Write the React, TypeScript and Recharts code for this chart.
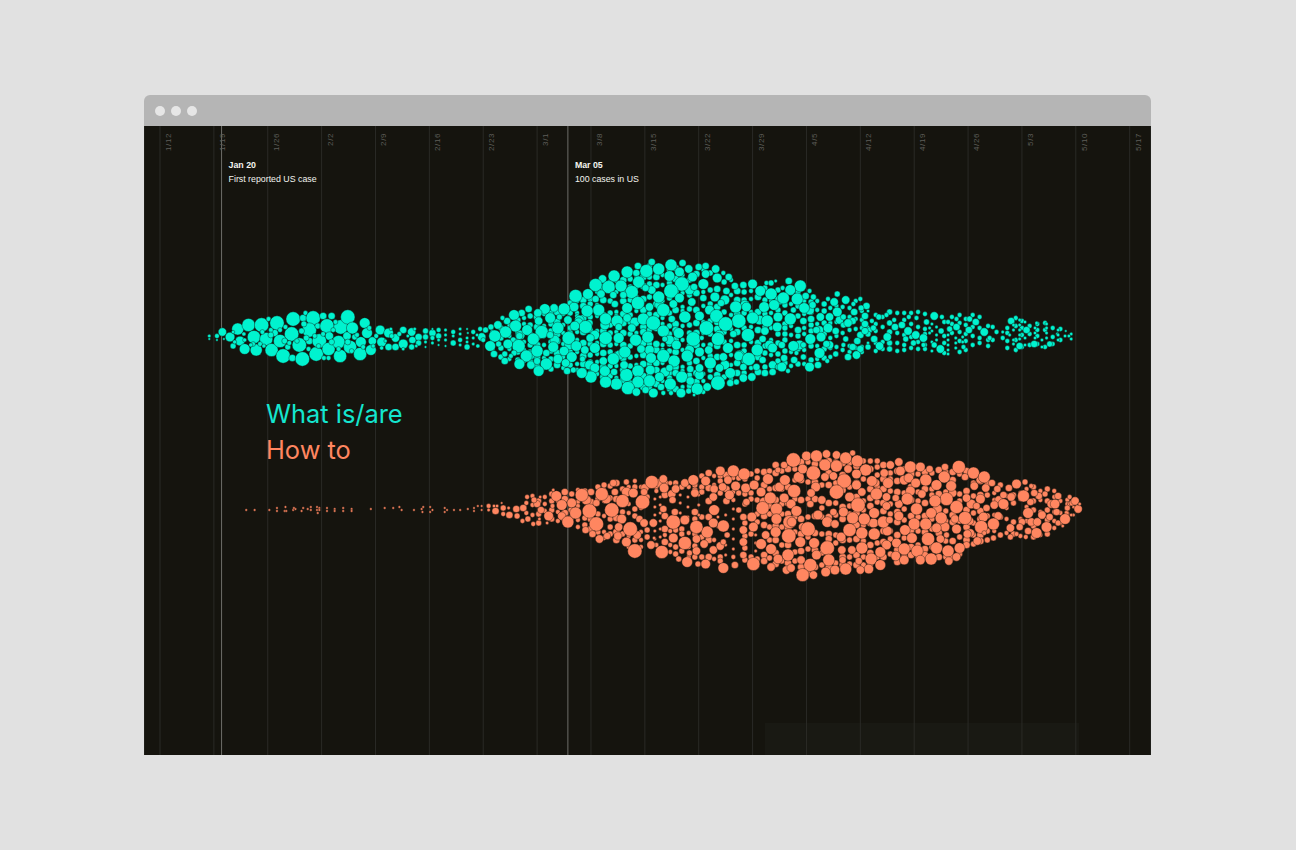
import React from "react";
import {
  ScatterChart,
  Scatter,
  XAxis,
  YAxis,
  ZAxis,
  CartesianGrid,
  ReferenceLine,
} from "recharts";

// weekly ticks, in days after Jan 12
const weekDays = [0, 7, 14, 21, 28, 35, 42, 49, 56, 63, 70, 77, 84, 91, 98, 105, 112, 119, 126];
const weekLabels = ["1/12", "1/19", "1/26", "2/2", "2/9", "2/16", "2/23", "3/1", "3/8", "3/15", "3/22", "3/29", "4/5", "4/12", "4/19", "4/26", "5/3", "5/10", "5/17"];

// each point: [day, offset from the swarm's middle, search volume]
const whatIsEarly = [
  [6.4,-1,2],[6.4,2,1],[7.4,-1,4],[7.4,3,1],[8.1,-5,12],[8.3,2,1],[9.1,0,16],[9.5,9,6],[10.1,-8,25],[10.4,4,16],[11,12,20],[11.5,-12,30],[12.2,0,30],[12.5,13,25],[13.2,-12,36],[13.8,2,30],[14.1,-18,4],[14.5,13,30],[15.2,-14,36],[14.9,-4,9],[15.6,4,30],[16,19,36],[17.3,-18,36],[17.1,-3,36],[16.6,10,6],[17.2,21,9],[18.1,8,36],[18.5,22,36],[18.6,-19,9],[18.9,-24,4],[19.9,-19,36],[19.4,-7,36],[19.4,4,9],[20.3,17,36],[20.7,4,36],[20.5,-11,6],[21.2,-21,9],[21.7,-11,36],[22,-1,12],[21.9,12,30],[21.3,21,4],[21.9,21,4],[22.3,-21,9],[23.2,5,30],[23.5,-10,36],[23.4,19,30],[24.4,-20,36],[24.3,-1,12],[25,-9,25],[24.7,10,30],[25.3,0,6],[26,17,30],[26.1,5,20],[26.6,-14,20],[26.9,-4,20],[27.4,13,20],[27.6,4,12],
  [10.9,-3,3],[11,3,3],[9.7,5,3],[9.5,-5,2],[12.1,7,4],[11.8,8,3],[13,7,4],[13.3,-5,4],[13.5,9,3],[14.4,-7,4],[14.4,-2,6],[15.6,-7,4],[16.3,-10,4],[16.2,4,6],[16.8,6,4],[17.8,4,4],[18.4,-6,6],[18.7,-13,6],[19,1,6],[19.3,12,4],[20.1,-1,4],[20.6,9,4],[21.2,-3,4],[22.3,5,6],[22.5,-7,4],[22.8,-15,4],[23.2,12,4],[24.4,5,6],[24.9,14,4],[25.6,-2,4],[26.4,10,4],[27.2,-9,4],[27.7,9,3],[28.1,-1,4],
];
const whatIsLull = [
  [28.6,-7,16],[28.8,5,16],[29.7,-4,16],[29.7,10,9],[30.6,1,12],[30.6,10,9],[31.6,-7,9],[31.6,7,16],[32.7,-5,12],[32.8,3,9],[32.7,10,6],[33.6,0,9],[33.6,6,6],[34.5,-6,6],[34.5,0,6],[35.4,-4,9],[35.4,1,4],[36.2,-7,4],[36.2,-1,6],[37.1,-7,2],[37.1,-2,2],[38.1,-5,4],[38.1,6,6],[39,-3,2],[39,3,4],[39.9,10,6],[40.7,-5,4],[41.8,0,12],
  [28.8,11,3],[29.3,4,2],[30,-8,2],[30.1,-1,4],[31.1,-3,4],[31.6,12,2],[32.2,-1,2],[33.1,-8,2],[33.3,9,2],[34.5,5,2],[34.5,10,1],[35.4,6,2],[35.4,-8,1],[36.2,3,2],[36.2,8,1],[37.1,3,2],[37.1,9,1],[38.1,-1,2],[39,-8,2],[39,8,2],[40,-4,1],[39.9,-8,1],[39.9,1,2],[39.9,5,2],[40.7,1,2],[40.7,7,2],[41.2,-2,2],[41.3,9,3],
];
const whatIsPeak = [
  [63.9,-75,9],[62.1,-71,9],[60.7,-65,25],[63.2,-66,30],[64.8,-68,25],[66.4,-72,25],[67.9,-74,9],[68.7,-68,12],[70,-70,9],[70.9,-71,9],[72.2,-68,12],[59,-61,25],[57.5,-58,12],[56.6,-52,30],[58.3,-50,30],[59.9,-51,25],[61.9,-64,9],[62.2,-55,25],[66.2,-61,20],[67.5,-65,16],[69.2,-60,16],[70.9,-63,12],[72.4,-59,16],[73.2,-64,4],[73.9,-60,9],[67.8,-53,36],[66.4,-46,36],[64.8,-40,25],[63.9,-47,12],[61.3,-45,30],[63.1,-49,9],[57.3,-43,12],[55.6,-43,20],[54,-41,30],[58.9,-42,9],[60.2,-42,9],[62.1,-34,30],[63.6,-30,12],[65.4,-27,30],[67.5,-39,16],[69.1,-35,12],[70.6,-53,20],[69.4,-50,9],[72.1,-40,16],[73.6,-46,9],[74.7,-51,9],[75.8,-52,9],[77,-53,16],[78,-46,20],[79.4,-43,25],[78.8,-54,4],[79.4,-54,6],[80,-56,2],[74.8,-30,25],[76.2,-30,16],[78.5,-30,20],[79.8,-32,20],[72.9,-34,9],[70.6,-39,9],[66.7,-33,12],[60.7,-29,20],[59.1,-33,9],[57,-27,25],[55.5,-26,25],[53.8,-30,16],[56.6,-38,9],[52.5,-28,25],[51.2,-29,12],[50,-28,20],[49.1,-24,12],[47.9,-28,9],[47,-24,9],[46,-22,20],[45.1,-16,9],[44.5,-19,4],[46.2,-11,25],[43.9,-12,12],[43,-10,6],[42.3,-7,6],[41.6,-8,4],[44.9,-5,25],[43.5,-1,25],[47.7,-7,20],[49.2,-16,12],[50.7,-19,20],[53,-17,12],[54.4,-15,12],[51.9,-20,6],[57.9,-18,25],[59.4,-16,25],[55.8,-14,9],[62.8,-18,25],[60.7,-19,12],[64.1,-14,36],[68.2,-20,25],[66.5,-18,9],[70.1,-21,16],[72.3,-21,30],[75.2,-16,36],[73.5,-13,36],[77,-19,25],[78.9,-16,25],[80.3,-20,16],[71,-9,36],[65.4,-6,25],[67.4,-4,20],[61.3,-9,12],[59.6,-10,9],[55.3,-10,30],[53.9,-11,16],[51.7,-9,25],[49.6,-5,30],[48.5,2,25],[46.7,-1,9],[45.9,3,6],[46.6,9,30],[45.2,7,16],[42.9,9,20],[44,7,6],[42,3,4],[50.7,-2,9],[53.1,1,30],[55.9,1,12],[57.9,1,30],[59.6,1,20],[61.8,3,25],[63.4,0,25],[69.3,2,36],[72.5,2,30],[76.4,-2,30],[74.5,-3,9],[78.6,-6,12],[80.2,-10,16],[79.6,11,16],[78.3,2,9],[67.1,8,16],[64.5,7,9],[65.6,2,6],[70.4,1,4],[51.1,10,20],[49,14,25],[47.6,19,25],[46,16,6],[44.8,17,6],[45.6,19,4],[43.4,17,9],[44.8,24,9],[46.7,27,20],[48.2,28,12],[49,24,9],[50.2,16,9],[50.2,27,25],[49.2,34,20],[51.7,22,16],[52.5,14,16],[54.1,9,20],[56.5,11,20],[55.2,13,12],[53.5,20,20],[52.7,26,12],[52.9,34,9],[54.9,22,6],[56.5,31,16],[57.6,24,12],[58.9,22,25],[60.4,15,25],[62.5,12,12],[63.8,21,20],[65.4,19,30],[66.8,24,25],[68.5,19,25],[70.1,15,16],[71.3,13,12],[71.5,26,25],[73.2,20,12],[73.8,11,20],[75.2,19,16],[76.5,22,30],[77.6,13,25],[79.6,28,12],[78.3,23,9],[60.6,38,30],[62.1,34,25],[60.3,28,12],[63.7,33,16],[64.9,40,16],[67.8,40,25],[70.1,31,12],[68.9,32,9],[66.2,31,9],[74.1,36,20],[72.5,46,36],[69.8,52,25],[71.1,50,12],[66.3,47,25],[63.6,44,25],[62.1,45,25],[60.8,51,30],[59.3,47,25],[57.9,45,25],[57.8,34,20],[59,35,9],[56,40,25],[54.8,36,20],[53.7,33,6],[61.9,55,12],[63.1,53,9],[64.1,56,16],[65.1,50,9],[65.4,56,4],[66.4,56,4],[67.7,56,16],[68.7,54,6],[69.4,58,2],[68.9,44,12],[74.1,46,9],[74.9,45,6],[75.8,41,12],[76.9,40,12],[78.6,36,9],[79.6,35,9],[77.5,30,9],[75.8,30,9],[72.7,31,12],[80.3,30,6],
];
const whatIsTail = [
  [81.7,-56,9],[83.2,-51,25],[80.9,-49,4],[81.9,-47,20],[84.4,-46,4],[81,-39,25],[82.8,-38,25],[83.9,-41,9],[84.9,-40,6],[88,-43,6],[86.8,-38,4],[87.6,-35,12],[89.1,-37,12],[84.8,-32,9],[83.7,-29,20],[82.3,-27,6],[88,-25,16],[85.8,-20,12],[87,-20,12],[81.9,-18,25],[83.6,-16,9],[84.6,-18,9],[88.8,-20,6],[90.2,-25,9],[91,-38,4],[90.1,-33,4],[91.8,-31,9],[91.1,-29,6],[91.6,-21,9],[89.4,-14,12],[91.6,-13,9],[86.8,-9,16],[85.3,-7,9],[82.9,-7,9],[81.2,-9,6],[84.5,2,20],[85.9,0,16],[87.8,-6,9],[89.1,2,6],[91.6,-6,9],[90.6,4,9],[92.8,2,9],[94.5,0,12],[93.5,9,12],[82.3,9,20],[80.8,8,9],[83.6,8,6],[85.7,16,20],[86.6,7,9],[87.8,17,6],[89.4,20,9],[90.5,18,12],[84.4,30,16],[85.5,28,9],[80.8,30,16],[82.4,23,9],[81.1,21,9],[83.6,20,6],[86.7,24,4],[81.6,34,4],[82.7,16,4],[88.8,8,4],[92.5,-16,4],[93.4,-20,6],[94.4,-22,4],[95.4,-17,4],[95.5,-10,9],[96.4,-12,9],[97.2,-6,12],[98.2,-2,12],[99.2,1,12],[96.9,2,6],[97.9,6,6],[99.2,8,4],[97.3,-20,4],[98.3,-19,4],[99.6,-15,6],[100.6,-21,12],[101.6,-20,4],[102.4,-15,4],[103.5,-18,4],[101.5,-6,6],[102.6,-8,6],[103.5,-10,9],[105.1,-7,9],[105.2,-18,6],[106,-15,9],[107.1,-5,12],[100.6,8,6],[101.4,12,12],[104.4,10,4],[107.8,1,4],[108.7,-5,4],[109.5,-5,2],[109.5,1,4],[110.6,-16,9],[111.7,-17,2],[112.6,-7,9],[111.7,9,9],[113.6,7,9],[113.9,-14,2],[115.2,-13,2],[115.6,7,6],[117.7,-6,1],[118.1,-1,2],[116.6,-3,2],[117.6,-1,2],[110.4,-2,2],
  [102.4,-2,2],[102.4,3,2],[102.4,8,2],[102.4,13,2],[102.4,17,2],[103.4,1,2],[103.4,6,2],[103.4,11,2],[104.3,0,2],[104.3,5,2],[110.9,-12,2],[110.9,-7,2],[110.9,3,2],[110.9,7,2],[111.7,-12,2],[111.7,-7,2],[111.7,-2,2],[111.7,2,2],[112.4,-15,2],[112.4,1,2],[112.4,8,2],[113.7,-9,2],[113.7,-4,2],[113.7,1,2],[114.6,3,2],[114.6,10,2],[115.2,-9,2],[115.2,-4,2],[115.2,1,2],[116.7,-7,2],[116.7,-2,2],[116.7,3,2],[100,-9,2],[100,-4,2],[100.9,-10,2],[100.9,-2,2],[100.9,3,2],
];
// mid-sized circles between the big ones
const whatIsGaps = [
  [57.8,-12,16],[56.5,-2,16],[61.7,-15,16],[66.2,3,16],[63.6,13,16],[79.2,8,16],[83.1,8,16],[72.7,-2,16],[68.8,13,16],[75.3,18,16],[59.7,18,16],[55.8,28,16],[71.4,-27,16],[77.9,-17,16],[88.3,-17,12],[87,8,12],[92.2,-7,6],[64.9,-32,16],[68.8,-47,16],[73.4,-37,16],[76,-32,16],[80.5,-37,16],[84.4,-27,16],[85.7,-7,12],[62.3,33,16],[65.6,35,16],[70.1,38,16],[73.4,28,16],[51.3,3,16],[46.8,-2,16],[48.1,18,16],[53.2,8,16],[54.5,-17,16],
  [88.8,-12,6],[90,-16,9],[91,-2,9],[92,-3,6],[92,10,6],[91,12,9],[90,10,9],[92.7,-9,6],
];
// the small circles packed between the big ones, one column per entry: [day, volume, offsets]
const whatIsPacking: [number, number, number[]][] = [
  [43.2,4,[-5,3,12]],[44.3,6,[-9,1,11,20]],[45.4,4,[-12,-1,12,22]],[46.5,6,[-17,-5,4,15,23]],[47.3,4,[-19,-13,5,13,24]],[48.1,6,[-21,-12,-3,8,15,24]],[49,9,[-20,-10,0,8,20,30]],[49.9,4,[-23,-11,-1,8,21,31]],[50.8,6,[-24,-13,-6,5,14,22,32]],[51.6,9,[-25,-15,-3,4,16,28]],[52.4,4,[-23,-12,-4,7,20,31]],[53.3,6,[-34,-24,-9,-4,6,15,28]],[54.2,4,[-36,-24,-21,-5,3,15,27,33]],[55,9,[-37,-31,-19,-5,6,19,27,34]],[55.9,6,[-38,-33,-20,-7,7,18,25,36]],[56.8,4,[-45,-32,-21,-6,6,17,25,37]],[57.6,9,[-50,-37,-22,-6,7,16,30,40]],[58.5,6,[-55,-36,-24,-12,-4,8,15,29,39]],[59.3,4,[-56,-45,-25,-21,-5,7,17,29,41]],[60.2,9,[-57,-47,-36,-23,-14,-4,8,21,33,43]],[61.1,6,[-58,-50,-37,-22,-15,-3,9,20,29,46]],[61.9,4,[-59,-50,-40,-26,-13,-4,7,19,28,40,50]],[62.8,9,[-60,-51,-38,-27,-10,-5,6,18,27,39,50]],[63.6,6,[-71,-60,-53,-40,-23,-7,7,13,27,38,50]],[64.5,9,[-60,-52,-33,-22,-9,13,26,33,47]],[65.3,4,[-62,-52,-36,-19,-13,8,13,26,37,44]],[66.2,6,[-67,-54,-39,-24,-11,-3,7,14,36,41,52]],[67,9,[-69,-58,-46,-27,-13,-7,3,15,30,36,52]],[67.9,4,[-62,-44,-30,-26,-11,3,13,30,34,50]],[68.8,6,[-57,-42,-28,-12,-4,9,14,26,38,49]],[69.7,9,[-63,-44,-27,-14,-4,8,24,36,45]],[70.6,4,[-67,-45,-31,-15,-4,8,21,37,44,55]],[71.5,6,[-64,-47,-33,-16,-3,8,19,33,40]],[72.4,9,[-48,-30,-15,-8,9,20,38]],[73.3,6,[-55,-39,-25,-5,5,27,40]],[74.2,4,[-57,-42,-22,-8,4,18,28,42]],[75,9,[-46,-37,-23,-5,8,26,36]],[75.9,6,[-45,-37,-24,-9,8,14,24,36]],[76.8,4,[-46,-38,-25,-10,5,31]],[77.7,9,[-40,-25,-7,6,20,35]],[78.6,6,[-49,-37,-23,-10,9,16,30]],[79.4,4,[-36,-24,-9,3,18]],[80.3,6,[-47,-38,-27,-3,6,17,24]],
  [81.2,6,[-32,-24,-13,-3,3,14,26]],[82,4,[-44,-33,-11,-2,15,29]],[82.9,6,[-45,-31,-21,-1,12,27]],[83.7,4,[-36,-23,-9,-3,13,27]],[84.6,6,[-35,-25,-12,-6,9,23]],[85.4,4,[-36,-27,-13,9,22]],[86.3,6,[-33,-26,-14,-3,12,21]],[87.1,4,[-29,-14,1,11,20]],[87.9,4,[-31,-15,-1,10]],[88.7,4,[-30,-13,-4,13]],[89.6,4,[-29,-20,-7,9,15]],[90.4,4,[-36,-18,-8,11]],[91.2,4,[-26,-17,-9,10,15]],[92,2,[-26,-10,6]],
  [93,4,[-22,-13,-6,6,14]],[93.9,4,[-20,-10,5,12]],[94.8,6,[-25,-14,-5,6,12]],[95.8,4,[-24,-4,6,14]],[96.7,4,[-24,-17,-2,8,13]],[97.6,4,[-24,-13,0,11]],[98.5,4,[-25,-10,5,12]],[99.4,4,[-23,-8,-3,8,12]],[100.3,2,[-13,-6,5,14]],[101.9,4,[-15,-1,6,16]],[102.9,4,[-20,-13,-4]],[103.9,4,[-22,-14,-5,4,15]],[104.7,4,[-18,-12,-3,4,13]],[105.6,4,[-22,-10,-1,8]],[106.5,4,[-20,-9,1,6]],[107.6,4,[-11,3,9]],[108.2,4,[-10,3]],[110.1,4,[-9,-4,4,11]],[111.2,4,[-19,-11,3,13]],[112,4,[-16,-9,-2,10]],[113,4,[-11,-3,8]],[114,4,[-13,-7,-1,7]],[115,4,[-14,-7,10]],[116,4,[-9,0,7]],[117,4,[-8,3]],[118.4,2,[-3,2]],
];
const howToTrickle = [
  [11.2,3,1],[12.3,3,1],[14.2,3,1],[15.2,1,1],[15.2,4,1],[16.2,4,1],[16.4,4,1],[16.3,0,1],[17.3,3,1],[17.6,2,1],[17.4,1,1],[18.4,4,1],[18.6,1,1],[19.2,2,1],[19.6,0,1],[19.6,3,1],[20.4,0,1],[20.7,1,1],[20.4,3,1],[20.7,3,1],[20.5,6,1],[21.7,1,1],[21.7,4,1],[22.7,2,1],[22.7,4,1],[23.8,1,1],[23.8,4,1],[24.9,2,1],[24.9,4,1],[27.4,2,1],[29.2,1,1],[30.3,1,1],[31.1,0,1],[31.4,3,1],[33,3,1],[34,2,1],[34.2,0,1],[34.1,5,1],[35.1,0,1],[35.4,3,1],[35.1,5,1],[37,1,1],[37.3,3,1],[37,5,1],[38.2,3,1],[39,3,1],[40,2,1],[40.8,1,1],[41.3,-1,1],[40.8,4,1],[41.8,-1,1],[41.8,3,1],[42.7,-1,4],[42.7,3,2],[43.6,4,9],[43.4,-1,2],[43.8,-1,2],[44.6,1,6],[44.4,-4,1],[44.6,7,4],[45.4,8,9],[45.3,1,2],[46.3,2,9],[46.4,9,6],
];
const howToRise = [
  [47.2,1,9],[47.7,-10,4],[48.6,-7,6],[47.8,12,6],[48.5,17,4],[49.5,3,9],[49.4,-10,2],[47.1,14,4],[49.3,12,2],[50.5,9,16],[50.3,16,2],[51.5,-11,20],[52.2,-2,20],[51,-1,4],[51.1,-17,2],[53.5,-13,6],[53,15,25],[54,6,25],[54.8,-12,30],[55.8,4,36],[56.7,17,36],[57.4,-13,30],[58.7,3,36],[59.1,-15,9],[57.7,-22,6],[56.7,-4,9],[55.3,23,9],[56.2,27,9],[57.1,32,12],[58.1,29,9],[59.6,20,12],[60.6,35,16],[61.1,22,36],[61.7,44,36],[62.3,12,9],[62.9,16,12],[63.8,38,12],[64.1,16,12],[65.2,45,30],[60.1,-6,30],[61.5,-14,16],[62.7,-5,36],[63.9,-25,30],[62.9,-15,9],[60.6,-25,6],[61.7,-26,4],[65.4,-28,12],[65.5,-19,16],[67,-18,12],[68.2,-24,12],[69.3,-27,20],[70.9,-26,16],[72.8,-36,16],[74.5,-36,25],[75.9,-33,25],[73.8,-27,12],[74.8,-21,16],[73.1,-20,12],[76.1,-19,16],[77.2,-22,16],[79,-28,20],[81.2,-27,20],[80.3,-37,6],[81.1,-42,9],[78.1,-15,16],[79.3,-9,25],[81.1,-9,16],[78.3,1,30],[80.1,2,25],[81.8,15,30],[80.1,12,20],[80,25,20],[81.7,29,36],[79.4,42,20],[81.6,48,25],[80.3,52,16],[79.4,60,12],[81.4,63,12],[77.1,57,30],[78.1,37,20],[78.7,28,12],[76.9,10,16],[77.1,20,16],[75.8,10,9],[75.8,23,12],[75.8,35,12],[75.8,48,9],[74.7,58,9],[73.2,61,20],[70.9,57,16],[69.9,57,6],[68.5,55,20],[67.4,52,6],[68.8,46,6],[69.7,44,12],[71.9,43,12],[68.2,36,30],[70.7,37,12],[69.7,32,12],[66.7,31,16],[71.1,25,25],[69.7,20,30],[66.7,15,36],[68.2,13,16],[71.9,16,16],[73.2,19,25],[72,3,20],[69.5,5,9],[66.9,5,9],[65.4,2,9],[66.6,-7,9],[71.9,-10,12],[74,-12,16],[72.8,39,12],[73.7,28,6],[73.2,35,6],[65.6,28,4],[64.2,31,2],
];
const howToPeak = [
  [82.3,-47,36],[84,-51,16],[85.3,-51,25],[86.6,-53,12],[87.9,-52,12],[89.1,-49,25],[90,-54,6],[90.6,-46,25],[86.4,-42,25],[87.9,-41,25],[84.9,-34,36],[83.5,-38,16],[89.4,-38,12],[91.7,-37,25],[90.5,-33,16],[88.9,-26,36],[87.5,-31,12],[86.4,-30,12],[92.3,-46,6],[93.2,-46,6],[94.9,-42,12],[96,-45,12],[96.2,-36,16],[94.1,-34,12],[97.5,-40,25],[98.8,-40,16],[92.5,-26,20],[94.6,-24,20],[97.3,-29,16],[99.5,-27,25],[98.2,-24,16],[101.9,-30,25],[103.8,-40,30],[105.7,-34,25],[107.1,-30,25],[104.6,-30,9],[100.9,-22,20],[102.8,-21,20],[105.8,-21,12],[107.3,-19,12],[108.1,-24,9],[108.8,-18,9],[111.3,-23,16],[112.4,-25,6],[110.3,-19,9],[112.2,-11,25],[113.6,-14,9],[109.6,-12,9],[115,-13,6],[116.7,-11,9],[116.3,-3,16],[118.9,-6,12],[119.3,2,12],[117.9,1,6],[117.6,12,20],[115.6,10,9],[114,15,12],[115.2,20,20],[113.9,26,20],[112.8,6,20],[112.8,24,9],[111.7,20,9],[110.5,21,12],[109.6,-3,20],[108.3,17,25],[106.7,20,30],[104.6,11,30],[103.5,0,30],[102.2,-8,30],[100.7,-6,25],[104.8,-9,12],[106.1,-1,9],[107.4,1,9],[101.5,11,25],[100.2,6,20],[98.3,2,25],[97.1,-8,25],[95.6,-9,9],[94.4,-1,12],[93.1,-13,25],[91.2,-15,12],[94.4,-10,12],[90.7,-2,36],[89.6,-10,16],[87.9,-15,36],[86,-7,12],[84.6,-14,12],[82.4,-16,30],[84.5,-3,9],[82.7,4,20],[87.5,5,9],[92.8,6,20],[90,11,25],[91.5,12,25],[94,15,25],[98,17,25],[99.5,17,25],[96.8,23,20],[100.9,21,16],[103.5,22,16],[104.9,27,12],[106.2,34,12],[102.2,28,6],[99.8,32,30],[97.7,31,20],[101.4,32,12],[95.7,36,16],[94.4,38,16],[92.8,27,25],[91.2,26,25],[89.6,23,30],[87.7,17,12],[84.2,22,36],[82.1,15,16],[83.2,35,20],[85,36,20],[86.7,41,36],[91.2,41,25],[88.6,43,12],[89.9,43,12],[93.6,45,20],[92.4,52,25],[96.7,42,25],[98.4,44,25],[100.9,41,25],[102.4,44,25],[103.9,41,20],[95.6,49,16],[96.7,53,16],[98.8,53,16],[100.2,52,25],[102.5,54,12],[103.5,50,12],[93.6,58,20],[92.1,62,16],[91,63,12],[89.1,62,25],[87.7,63,16],[86.5,65,16],[84.5,58,30],[83.5,68,30],[84.9,68,12],[86.9,53,25],[85.3,48,16],[83.3,53,12],[82,61,12],[88.7,53,9],[90.8,54,9],[94.8,13,9],[113.2,-21,4],[110.5,30,6],[111.3,27,4],[108.3,31,6],[112.5,30,4],[107.1,26,4],[117.3,19,2],[118.4,8,2],[119.5,-3,2],[118.2,-10,4],
];
const howToGaps = [
  [113.1,-5,9],[114.2,-11,9],[115.8,-3,12],[114.6,8,12],[116.5,5,9],[117.8,6,4],[118.2,-3,4],[116.7,16,6],[118.5,-4,6],[113.2,15,12],[112,15,9],[110.6,-10,12],[109,-7,12],[108.4,-2,12],[106.6,-8,16],[105.4,-3,16],[108.9,9,12],[107,10,16],[105.3,26,12],[105.2,14,12],[102,20,16],[103.3,12,12],[101,2,16],[99,-13,12],[96.7,-27,16],[96,-3,12],[94,-4,9],
  [86.7,15,20],[85.5,8,16],[88.8,5,16],[83.5,20,12],[88.5,30,16],[94.5,24,16],[92.7,16,16],[90.5,-22,16],[96,9,16],[97.5,-16,16],[103,-14,12],[100,30,9],[78.5,-5,16],[82,-3,16],[76.2,-5,9],[80.5,-20,16],[83,-30,20],[85.2,-20,16],[93,-24,12],[100,-38,9],[102,-40,9],[106.5,-27,9],
  [58,-8,16],[55.4,-7,16],[53.5,-4,16],[52.2,9,12],[49,-3,9],[60,12,16],[59.5,29,12],[62,28,12],[58.9,-24,9],[63,-19,12],[60.6,-15,16],[69.5,-14,12],[72,-18,12],[66.5,-13,12],[64.8,-24,12],
];
const howToPacking: [number, number, number[]][] = [
  [47.6,4,[-4,6]],[48.4,4,[-11,-2,8]],[49.2,6,[-6,7,16]],[50,4,[-10,-3,4]],[50.9,6,[-13,-6,3,12]],[51.7,4,[-6,5,14]],[52.6,9,[-15,-8,6,12]],[53.4,6,[-6,3,11]],[54.3,4,[-17,-5,-1,13,20]],[55.2,6,[-16,-6,11,18]],[56,9,[-15,-5,12,22]],[56.9,6,[-20,-8,7,25]],[57.7,4,[-17,-6,9,25,31]],[58.5,6,[-21,-9,12,20,27]],[59.3,9,[-24,-8,11,25,33]],[60.1,6,[-18,5,13,27]],[60.9,4,[-20,-3,6,29,40]],[61.7,6,[-20,2,9,33]],[62.5,4,[-20,1,25,33,40]],[63.3,6,[-21,-10,23,30]],
  [64.5,4,[-20,-16,38]],[65.6,9,[-24,-12,9,22,35]],[66.3,4,[-24,-13,24,38,45]],[67,6,[-24,-20,23,40,47]],[67.8,6,[-20,22,27,44]],[68.7,4,[-20,26,40,50]],[69.5,6,[-22,-17,12,27,39,50]],[70.4,6,[-31,-20,-15,10,30,50]],[71.3,9,[-34,-19,-6,10,33,50]],[72,4,[-31,-22,-16,33,52]],[72.8,6,[-31,-26,-14,50,54]],[73.6,9,[-32,-18,-6]],[74.5,4,[-29,-15,-7,50]],[75.2,6,[-29,-14,3]],[76,6,[-28,-13,-3,16,29,41,53]],[76.8,6,[-33,-14,-8,27,50]],[77.6,6,[-36,-29,-7,7,15,52]],[78.5,9,[-35,-22,-6,9,18,48,54]],[79.2,6,[-36,-18,-1,7,20,33,51]],
  [80,9,[-42,-34,-19,-7,7,19,33,46,57]],[80.8,6,[-36,-18,-3,7,20,38,54]],[81.6,9,[-38,-20,-4,7,22,38,56]],[82.5,6,[-38,-27,-8,10,25,45,54]],[83.3,9,[-45,-27,-7,12,27,44,60]],[84.2,6,[-45,-25,-8,10,30,42,66]],[85.1,9,[-43,-25,-8,9,26,43,60]],[86,6,[-45,-22,1,10,27,46,58]],[86.9,9,[-46,-34,-22,-4,10,27,32,60]],[87.8,6,[-45,-24,-4,8,28,36,56]],[88.7,9,[-44,-32,-17,0,12,33,50,58]],[89.6,6,[-44,-20,-1,7,33,50,57]],[90.5,9,[-41,-24,-10,6,18,32,48,58]],[91.4,6,[-46,-28,-6,3,18,34,50,58]],[92.3,9,[-38,-18,-9,-1,16,38,46,56]],[93.2,6,[-40,-32,-20,-5,16,36,50]],[94,9,[-42,-28,-18,4,24,35,50]],[94.9,6,[-34,-28,-16,-3,7,24,32,47]],[95.8,9,[-36,-26,-15,5,15,28,43,55]],[96.7,6,[-38,-25,-14,2,13,31,48]],[97.6,9,[-33,-20,-7,9,23,40,48]],[98.5,6,[-33,-15,-6,10,24,38,50]],[99.4,9,[-35,-18,-4,9,25,42,48]],[100.3,6,[-34,-18,-12,12,22,40,50]],[101.2,9,[-37,-13,2,18,26,40,50]],[102.1,6,[-35,-15,4,14,34,50]],[103,9,[-35,-27,-14,8,15,34,50]],[103.9,6,[-33,-13,-6,14,30,47]],[104.8,9,[-36,-16,3,20,33,38]],[105.7,6,[-24,-11,6,16,28,37]],[106.6,9,[-26,-12,4,12,28,34]],[107.5,6,[-24,-12,9,24,33]],[108.4,4,[-14,-7,8,24]],[109.2,6,[-22,-8,10,28]],[110,4,[-11,1,12,26]],[110.9,6,[-12,-4,15,27]],[111.8,4,[-14,-8,12,29]],[112.6,4,[-18,0,14]],[113.5,6,[-20,-6,3,19,30]],[114.4,4,[-16,-7,5,28]],[115.3,6,[-18,-6,3,13,27]],[116.2,4,[-16,-10,5,14,21]],[117,4,[-6,6,16]],[117.9,4,[-7,-3,7,14]],[118.7,2,[0,8]],
  // tiny dots left in the dark pockets
  [64.3,2,[-8,0,8,16,24,32]],[65,2,[-10,-2,6,14,22,30]],[67.6,2,[-12,-4,6]],[68.6,2,[-10,0,10]],[70,2,[-12,-2,8,18]],[72.5,2,[2,10,20]],[73.5,2,[8,18,28,38,48]],[74.5,2,[2,12,22,32,42]],[77.4,2,[28,36,44]],
];

const toRows = (points: number[][]) =>
  points.map(([day, offset, volume]) => ({ day, offset, volume }));

const packingToRows = (columns: [number, number, number[]][]) =>
  columns.flatMap(([day, volume, offsets]) => offsets.map((offset) => ({ day, offset, volume })));

const whatIsRows = [...packingToRows(whatIsPacking), ...toRows([...whatIsGaps, ...whatIsEarly, ...whatIsLull, ...whatIsPeak, ...whatIsTail])];
const howToRows = [...packingToRows(howToPacking), ...toRows([...howToGaps, ...howToTrickle, ...howToRise, ...howToPeak])];

const TEAL = "#00f3cf";
const CORAL = "#ff8660";
const PANEL = "#15140e";

function WeekTick({ x, payload }: any) {
  const label = weekLabels[weekDays.indexOf(payload.value)];
  return (
    <text
      transform={`translate(${x + 11},7) rotate(-90)`}
      textAnchor="end"
      fontSize={8}
      letterSpacing={0.6}
      fontFamily="Liberation Sans"
      fill="#5e5e59"
    >
      {label}
    </text>
  );
}

function EventLabel({ viewBox, title, note }: any) {
  const x = viewBox.x + 7;
  return (
    <g fontFamily="Liberation Sans" fontSize={8.8} fill="#f4f4f0">
      <text x={x} y={42} fontWeight="bold">{title}</text>
      <text x={x} y={56}>{note}</text>
    </g>
  );
}

// radius comes from the z axis size
function SwarmDot(props: any) {
  return <circle cx={props.cx} cy={props.cy} r={Math.sqrt(props.size / Math.PI)} fill={props.fill} stroke={PANEL} strokeWidth={0.4} />;
}

export default function App() {
  return (
    <div style={{ position: "fixed", left: 0, top: 0, width: 1296, height: 850, background: "#e1e1e1" }}>
      {/* window chrome */}
      <div style={{ position: "absolute", left: 144, top: 95, width: 1007, height: 31, background: "#b5b5b5", borderRadius: "6px 6px 0 0" }}>
        {[11, 27, 43].map((left) => (
          <div key={left} style={{ position: "absolute", left: left, top: 10.5, width: 10, height: 10, borderRadius: 5, background: "#e6e6e6" }} />
        ))}
      </div>
      <div style={{ position: "absolute", left: 144, top: 126, width: 1007, height: 629, background: PANEL }}>
        <div style={{ position: "absolute", left: 621, top: 597, width: 314, height: 32, background: "#191913" }} />
        <ScatterChart width={1007} height={629} margin={{ top: 0, right: 0, bottom: 0, left: 0 }} style={{ position: "absolute" }}>
          <CartesianGrid horizontal={false} stroke="#2a2a26" yAxisId="whatIs" />
          <XAxis
            type="number"
            dataKey="day"
            orientation="top"
            mirror
            domain={[-2.08, 128.77]}
            ticks={weekDays}
            interval={0}
            axisLine={false}
            tickLine={false}
            tick={<WeekTick />}
          />
          <YAxis yAxisId="whatIs" type="number" dataKey="offset" hide reversed domain={[-211, 418]} />
          <YAxis yAxisId="howTo" type="number" dataKey="offset" hide reversed domain={[-381, 248]} />
          <ZAxis dataKey="volume" domain={[0, 100]} range={[0, 452]} />
          <ReferenceLine x={8} yAxisId="whatIs" stroke="#6d6d69" label={<EventLabel title="Jan 20" note="First reported US case" />} />
          <ReferenceLine x={53} yAxisId="whatIs" stroke="#6d6d69" label={<EventLabel title="Mar 05" note="100 cases in US" />} />
          <Scatter name="What is/are" yAxisId="whatIs" data={whatIsRows} fill={TEAL} shape={<SwarmDot />} isAnimationActive={false} />
          <Scatter name="How to" yAxisId="howTo" data={howToRows} fill={CORAL} shape={<SwarmDot />} isAnimationActive={false} />
        </ScatterChart>
        <div style={{ position: "absolute", left: 122, top: 270, fontFamily: "Inter", fontSize: 25.4, lineHeight: "36px" }}>
          <div style={{ color: "#14e6cf" }}>What is/are</div>
          <div style={{ color: CORAL }}>How to</div>
        </div>
      </div>
    </div>
  );
}
